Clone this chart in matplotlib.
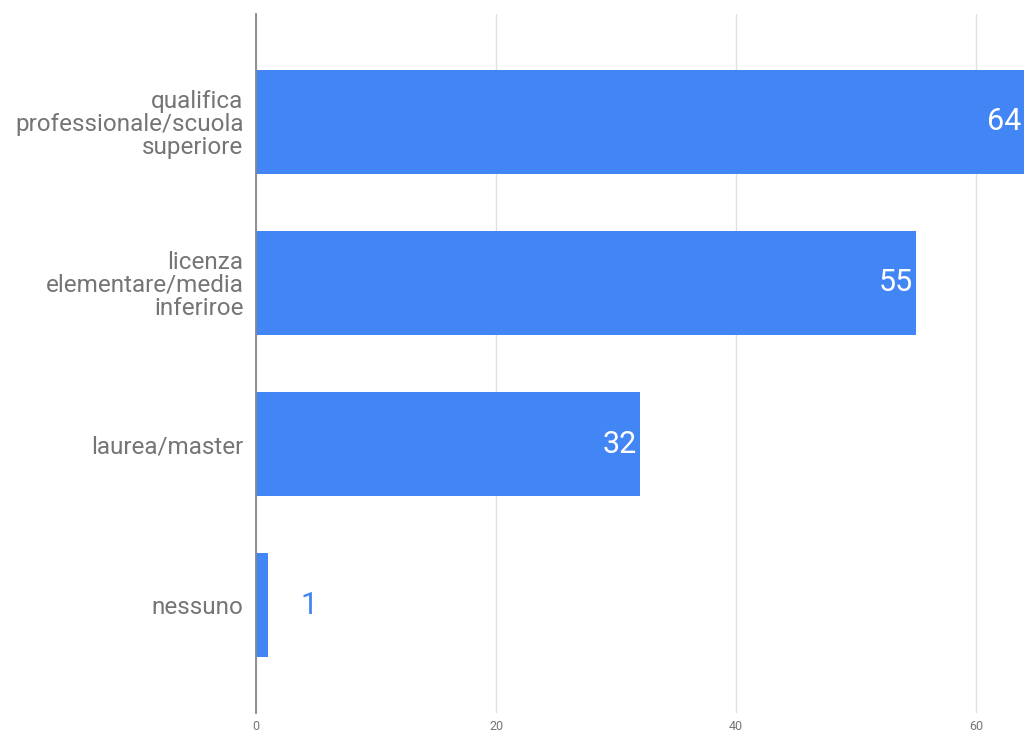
import matplotlib.pyplot as plt

categories = ["qualifica\nprofessionale/scuola\nsuperiore",
              "licenza\nelementare/media\ninferiroe",
              "laurea/master",
              "nessuno"]
values = [64, 55, 32, 1]
xticks = [0, 20, 40, 60]

bar_color = "#4285F4"
text_gray = "#757575"

plt.rcParams['font.family'] = ['Roboto', 'DejaVu Sans']

fig = plt.figure(figsize=(10.24, 7.31), dpi=100)
ax = fig.add_axes([0.25, 0.0246, 0.75, 0.9562])

pos = list(range(len(categories)))
ax.barh(pos, values, height=0.646, color=bar_color, zorder=2)

ax.set_xlim(0, 64)
ax.set_ylim(3.67, -0.67)

# value labels: inside for long bars, outside for short ones
for y, v in zip(pos, values):
    if v > 5:
        ax.annotate(str(v), (v, y), xytext=(-2, 0), textcoords="offset points",
                    ha="right", va="center", color="white", fontsize=22)
    else:
        ax.annotate(str(v), (v, y), xytext=(23, 0), textcoords="offset points",
                    ha="left", va="center", color=bar_color, fontsize=22)

ax.set_yticks(pos)
ax.set_yticklabels(categories, fontsize=17.5, color=text_gray, linespacing=1.0)
ax.tick_params(axis="y", length=0, pad=9)

ax.set_xticks(xticks)
ax.tick_params(axis="x", length=0, labelsize=9, labelcolor=text_gray, pad=5)
ax.grid(axis="x", color="#e0e0e0", linewidth=1, zorder=0)
ax.set_axisbelow(True)

for s in ["top", "right", "bottom"]:
    ax.spines[s].set_visible(False)
ax.spines["left"].set_color("#888888")
ax.spines["left"].set_linewidth(1.3)
ax.spines["left"].set_zorder(3)

fig.savefig("out.png", dpi=100)
